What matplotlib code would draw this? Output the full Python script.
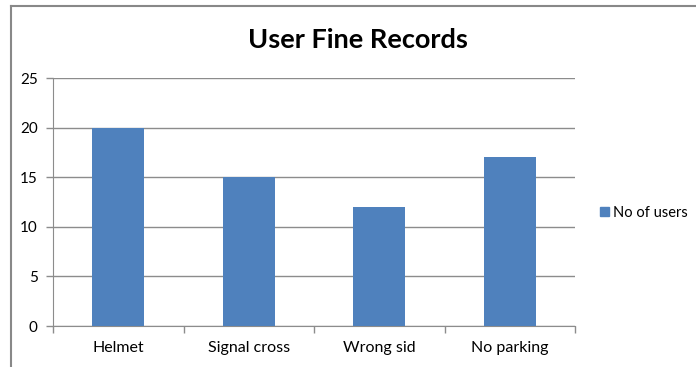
import matplotlib
matplotlib.use("Agg")
import matplotlib.pyplot as plt
from matplotlib.lines import Line2D
from matplotlib.patches import Patch

# Chart data
CATEGORIES = ["Helmet", "Signal cross", "Wrong sid", "No parking"]
USERS = [20, 15, 12, 17]
SERIES_NAME = "No of users"
Y_TICKS = [0, 5, 10, 15, 20, 25]

BAR_COLOR = "#4f81bd"
GRID_COLOR = "#8c8c8c"

plt.rcParams["font.family"] = ["Lato", "DejaVu Sans"]

fig = plt.figure(figsize=(6.96, 3.67), dpi=100)
ax = fig.add_axes([53 / 696, 41 / 367, 522 / 696, 248 / 367])

x = range(len(CATEGORIES))
ax.bar(x, USERS, width=0.4, color=BAR_COLOR, zorder=3)

ax.set_xlim(-0.5, len(CATEGORIES) - 0.5)
ax.set_ylim(0, 25)
ax.set_yticks(Y_TICKS)
ax.yaxis.grid(True, color=GRID_COLOR, linewidth=1.0, zorder=0)

ax.set_xticks(list(x))
ax.set_xticklabels(CATEGORIES, fontsize=11.5)
ax.tick_params(axis="x", length=0, pad=11)
ax.tick_params(axis="y", length=5, width=1, color=GRID_COLOR, labelsize=11, pad=6)

# category separator ticks below the axis
ax.set_xticks([i - 0.5 for i in range(len(CATEGORIES) + 1)], minor=True)
ax.tick_params(axis="x", which="minor", length=5, width=1, color=GRID_COLOR)

for side in ["top", "right"]:
    ax.spines[side].set_visible(False)
ax.spines["left"].set_color(GRID_COLOR)
ax.spines["bottom"].set_color(GRID_COLOR)

fig.text(358 / 696, 1 - 40 / 367, "User Fine Records", ha="center", va="center",
         fontsize=19.5, fontweight="bold")

fig.legend(handles=[Patch(color=BAR_COLOR, label=SERIES_NAME)],
           loc="center left", bbox_to_anchor=(590 / 696, 1 - 213 / 367),
           frameon=False, fontsize=10.5, handlelength=0.6, handleheight=0.6,
           handletextpad=0.3, borderpad=0.2)

# chart area border (top and left visible)
fig.add_artist(Line2D([10.5 / 696, 1], [1 - 5.5 / 367] * 2, color="#888888", lw=1.5,
                      transform=fig.transFigure))
fig.add_artist(Line2D([10.5 / 696] * 2, [0, 1 - 5.5 / 367], color="#888888", lw=1.5,
                      transform=fig.transFigure))

fig.savefig("out.png", dpi=100)
